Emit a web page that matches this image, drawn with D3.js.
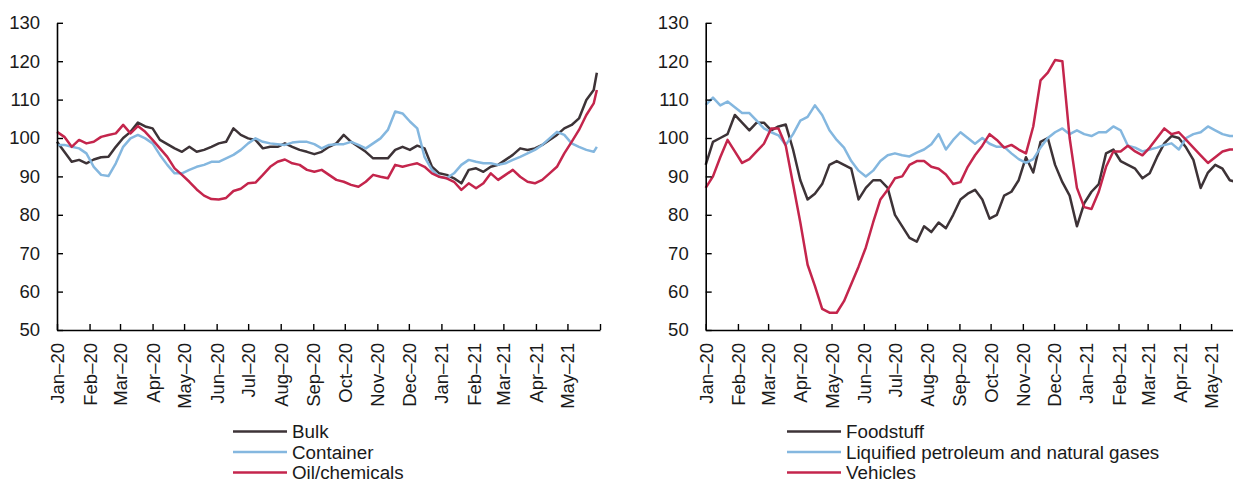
<!DOCTYPE html>
<html>
<head>
<meta charset="utf-8">
<script src="https://cdn.jsdelivr.net/npm/d3@7"></script>
<style>
  body { margin: 0; background: #fff; }
  svg { display: block; font-family: "Liberation Sans", Arial, sans-serif; }
</style>
</head>
<body>
<div id="chart"></div>
<script>
// Weekly readings from 1 Jan 2020, plus a final point at 29 May 2021
const monthLabels = ["Jan\u201320", "Feb\u201320", "Mar\u201320", "Apr\u201320", "May\u201320", "Jun\u201320",
  "Jul\u201320", "Aug\u201320", "Sep\u201320", "Oct\u201320", "Nov\u201320", "Dec\u201320",
  "Jan\u201321", "Feb\u201321", "Mar\u201321", "Apr\u201321", "May\u201321"];
const yTicks = [50, 60, 70, 80, 90, 100, 110, 120, 130];

const bulk = [99, 96.4, 93.8, 94.3, 93.4, 94.4, 95, 95.1, 97.7, 100, 101.6, 104, 103, 102.5, 99.5, 98.4,
  97.3, 96.4, 97.7, 96.4, 96.9, 97.7, 98.6, 99, 102.5, 100.8, 99.9, 99.5, 97.3, 97.7, 97.7, 98.6, 97.7,
  96.9, 96.4, 95.8, 96.4, 97.7, 98.6, 100.8, 99, 97.7, 96.4, 94.7, 94.7, 94.7, 96.9, 97.7, 96.9, 98,
  97.3, 92.5, 90.8, 90.4, 89.5, 88.2, 91.7, 92.1, 91.2, 92.5, 93, 94.3, 95.6, 97.3, 96.9, 97.3, 98.2,
  99.5, 100.8, 102.5, 103.4, 105.1, 109.9, 112.5, 117];
const container = [98.2, 98.2, 97.7, 97.3, 96, 92.5, 90.4, 90.1, 93.4, 97.7, 99.9, 100.8, 99.9, 98.6,
  95.6, 93, 90.8, 90.8, 91.7, 92.5, 93, 93.8, 93.8, 94.7, 95.6, 96.9, 98.6, 99.9, 99, 98.6, 98.4, 98.2,
  98.8, 99, 99, 98.4, 97.3, 98.2, 98.4, 98.4, 99, 98.2, 97.3, 98.6, 99.9, 102.1, 106.9, 106.4, 104.3,
  102.5, 95, 91.7, 89.9, 89.5, 90.8, 93, 94.3, 93.8, 93.4, 93.4, 93, 93.4, 94.3, 95.1, 96, 96.9, 98.2,
  99.9, 101.6, 100.8, 98.6, 97.7, 96.9, 96.4, 97.7];
const oilChem = [101.6, 100.3, 97.7, 99.5, 98.6, 99, 100.3, 100.8, 101.2, 103.4, 101.2, 103.1, 101.6,
  99.5, 97.3, 95.1, 92.1, 90.4, 88.6, 86.6, 85, 84.1, 84, 84.4, 86.2, 86.8, 88.2, 88.4, 90.4, 92.5, 93.8,
  94.4, 93.4, 93, 91.7, 91.2, 91.7, 90.4, 89.1, 88.6, 87.8, 87.3, 88.6, 90.4, 89.9, 89.5, 93, 92.5, 93,
  93.4, 92.5, 90.8, 89.9, 89.5, 88.6, 86.5, 88.2, 86.9, 88.2, 90.8, 89.1, 90.4, 91.7, 89.9, 88.6, 88.2,
  89.1, 90.8, 92.5, 96, 99, 102.1, 106, 109, 112.5];

const foodstuff = [93, 99, 100, 101, 106, 104, 102, 104, 104, 102, 103, 103.5, 97, 89, 84, 85.5, 88, 93,
  94, 93, 92, 84, 87, 89, 89, 87, 80, 77, 74, 73, 77, 75.5, 78, 76.5, 80, 84, 85.5, 86.5, 84, 79, 80, 85,
  86, 89, 95, 91, 99, 100, 93, 88.5, 85, 77, 83, 86, 88, 96, 97, 94, 93, 92, 89.5, 90.8, 95, 98.6, 100.5,
  100, 97.5, 94.3, 87, 91, 93, 92, 89, 88.5, 88.5];
const lpg = [108.6, 110.5, 108.5, 109.5, 108, 106.5, 106.5, 104.5, 102.5, 101.5, 100.7, 98.2, 101, 104.5,
  105.5, 108.5, 106, 102, 99.5, 97.5, 94, 91.5, 90, 91.5, 94, 95.5, 96, 95.5, 95.2, 96.2, 97, 98.4, 101,
  97, 99.5, 101.5, 100, 98.5, 100, 98.5, 97.7, 97.7, 96, 94.5, 93.5, 94.5, 97.5, 100, 101.5, 102.5, 101,
  102, 101, 100.5, 101.5, 101.5, 103, 102, 98, 97.5, 96.5, 97, 97.5, 98.2, 98.6, 97, 100, 101, 101.5,
  103, 102, 101, 100.5, 100.5, 100.5];
const vehicles = [87, 90, 95, 99.5, 96.5, 93.5, 94.5, 96.5, 98.5, 102.5, 102.5, 98, 88, 78, 67, 61.5, 55.5,
  54.5, 54.5, 57.5, 62, 66.5, 71.5, 78, 84, 86.5, 89.5, 90, 93, 94, 94, 92.5, 92, 90.5, 88, 88.5, 92.5,
  95.5, 98, 101, 99.5, 97.5, 98.2, 97, 96, 103, 115, 117, 120.3, 120, 100, 87, 82, 81.5, 86, 92.5, 96.5,
  96.5, 98, 96.5, 95.5, 97.5, 100, 102.5, 101, 101.5, 99.5, 97.5, 95.5, 93.5, 95, 96.5, 97, 97, 97];

const start = new Date(2020, 0, 1);
const dates = d3.range(74).map(i => d3.timeDay.offset(start, 7 * i)).concat([new Date(2021, 4, 29)]);
const monthTicks = d3.timeMonth.range(new Date(2020, 0, 1), new Date(2021, 5, 2));

const dark = "#3d3337", blue = "#84b7df", red = "#c4254c";

const panels = [
  {left: 57, right: 600, legendX: 233,
   series: [{name: "Bulk", values: bulk, color: dark},
            {name: "Container", values: container, color: blue},
            {name: "Oil/chemicals", values: oilChem, color: red}]},
  {left: 705.7, right: 1243.3, legendX: 787,
   series: [{name: "Foodstuff", values: foodstuff, color: dark},
            {name: "Liquified petroleum and natural gases", values: lpg, color: blue},
            {name: "Vehicles", values: vehicles, color: red}]}
];

const W = 1233, H = 482;
const plotTop = 22.8, plotBottom = 330;

const svg = d3.select("#chart").append("svg")
  .attr("width", W)
  .attr("height", H);

const y = d3.scaleLinear().domain([50, 130]).range([plotBottom, plotTop]);

panels.forEach(p => {
  const x = d3.scaleTime()
    .domain([new Date(2020, 0, 1), new Date(2021, 5, 1)])
    .range([p.left, p.right]);

  // Lines
  const line = d3.line()
    .x((d, i) => x(dates[i]))
    .y(d => y(d));
  p.series.forEach(s => {
    svg.append("path")
      .datum(s.values)
      .attr("fill", "none")
      .attr("stroke", s.color)
      .attr("stroke-width", 2.5)
      .attr("stroke-linejoin", "round")
      .attr("d", line);
  });

  // Y axis, ticks inward
  const gy = svg.append("g")
    .attr("transform", `translate(${p.left},0)`)
    .call(d3.axisLeft(y).tickValues(yTicks).tickSizeInner(-6).tickSizeOuter(0).tickPadding(17));
  gy.selectAll("text").style("font-size", "18.5px").attr("fill", "#1a1a1a");

  // X axis, ticks inward, rotated month labels
  const gx = svg.append("g")
    .attr("transform", `translate(0,${plotBottom})`)
    .call(d3.axisBottom(x).tickValues(monthTicks).tickSizeInner(-6).tickSizeOuter(0)
      .tickFormat((d, i) => monthLabels[i] || ""));
  gx.selectAll("text")
    .style("font-size", "18.5px")
    .attr("fill", "#1a1a1a")
    .attr("transform", "rotate(-90)")
    .attr("text-anchor", "end")
    .attr("x", -13)
    .attr("y", 0)
    .attr("dy", "0.35em");

  [gx, gy].forEach(g => {
    g.select(".domain").attr("stroke", "#000").attr("stroke-width", 1.6);
    g.selectAll(".tick line").attr("stroke", "#000").attr("stroke-width", 1.4);
  });

  // Legend
  p.series.forEach((s, i) => {
    const ly = 431.5 + i * 20.5;
    svg.append("line")
      .attr("x1", p.legendX).attr("x2", p.legendX + 54)
      .attr("y1", ly).attr("y2", ly)
      .attr("stroke", s.color)
      .attr("stroke-width", 2.5);
    svg.append("text")
      .attr("x", p.legendX + 59)
      .attr("y", ly)
      .attr("dy", "0.35em")
      .style("font-size", "18.8px")
      .attr("fill", "#1a1a1a")
      .text(s.name);
  });
});
</script>
</body>
</html>
